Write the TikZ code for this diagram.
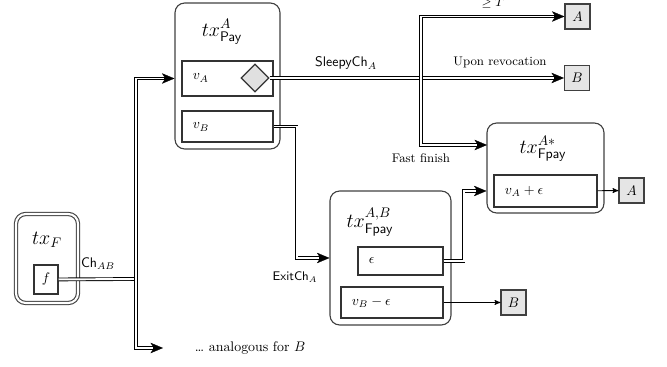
\documentclass[tikz,border=0pt]{standalone}
\usepackage{amsmath, amssymb}
\usetikzlibrary{arrows, arrows.meta}
\usetikzlibrary{shapes}

\newcommand{\chanArrow}[1]{\draw[chanHead] #1; \draw[chanStyle, shorten >= 7.5pt] #1;}

\begin{document}
\begin{tikzpicture}[x = 0.72pt, y = -0.72pt, font = \small]
\tikzset{box size/.style 2 args = {minimum width = #1*0.72pt, minimum height = #2*0.72pt}}
\tikzstyle{txStyle} = [draw = black!75, line width = 0.8pt, rounded corners = 7pt, inner sep = 0pt]
\tikzstyle{inStyle} = [draw = black!80, line width = 0.8pt, inner sep = 0pt]
\tikzstyle{outStyle} = [draw = black!75, line width = 0.8pt, fill = black!10, box size = {25}{25}, inner sep = 0pt]
\tikzstyle{chanStyle} = [draw = black, double = white, double distance = 1.4pt, line width = 0.65pt]
\tikzstyle{chanHead} = [draw = black, line width = 2.7pt, -{Stealth[length = 9pt, width = 7.5pt, inset = 2.5pt, line width = 0.2pt]}]
\tikzstyle{payStyle} = [-stealth', line width = 0.6pt]
\useasboundingbox (0,0) rectangle (667,367);
% funding tx
\node[txStyle, double, double distance = 1.5pt, box size = {62}{89}] (txF) at (47,258.5) {};
\node (txFTitle) at (47,240) {\Large $tx_F$};
\node[inStyle, box size = {24}{29}] (f) at (46,279.5) {\normalsize $f$};
% payment tx
\node[txStyle, box size = {105}{146}] (pay) at (227.5,76) {};
\node (payTitle) at (222,32) {\Large $tx^{A}_{\mathsf{Pay}}$};
\node[inStyle, box size = {91}{35}] (vA) at (227.5,78.5) {};
\node[anchor = west] (vALab) at (188,78) {\normalsize $v_A$};
\node[diamond, draw = black!80, line width = 0.8pt, fill = black!12, inner sep = 0pt, minimum size = 28*0.72pt] (dia) at (255,78) {};
\node[inStyle, box size = {91}{31}] (vB) at (227.5,126.5) {};
\node[anchor = west] (vBLab) at (188,127) {\normalsize $v_B$};
% fast payment txs
\node[txStyle, box size = {121}{134}] (fpayAB) at (390.5,258) {};
\node (fpayABTitle) at (370,222) {\Large $tx^{A,B}_{\mathsf{Fpay}}$};
\node[inStyle, box size = {85}{28}] (eps) at (400.5,261) {};
\node[anchor = west] (epsLab) at (364,261) {\normalsize $\epsilon$};
\node[inStyle, box size = {102}{31}] (vBe) at (392,302.5) {};
\node[anchor = west] (vBeLab) at (347,302) {\normalsize $v_B - \epsilon$};
\node[txStyle, box size = {117}{90}] (fpayA) at (545.5,168) {};
\node (fpayATitle) at (543,149) {\Large $tx^{A*}_{\mathsf{Fpay}}$};
\node[inStyle, box size = {103}{32}] (vAe) at (545.5,191) {};
\node[anchor = west] (vAeLab) at (500,191) {\normalsize $v_A + \epsilon$};
% outputs
\node[outStyle] (outA1) at (577.5,16.5) {\normalsize $A$};
\node[outStyle] (outB1) at (577,78) {\normalsize $B$};
\node[outStyle] (outA2) at (631.5,190.5) {\normalsize $A$};
\node[outStyle] (outB2) at (513.5,302.5) {\normalsize $B$};
% junctions
\coordinate (chAB) at (136,279);
\coordinate (sleepy) at (421,78);
\coordinate (anaTip) at (163,348);
\coordinate (fastIn) at (487,145);
\node[anchor = west, font = \normalsize] (ana) at (190,348) {\dots\ analogous for $B$};
% labels
\node (chABLab) at (98,264) {\normalsize $\mathsf{Ch}_{AB}$};
\node (exitLab) at (295,277) {$\mathsf{ExitCh}_A$};
\node (sleepyLab) at (346,63) {\normalsize $\mathsf{SleepyCh}_A$};
\node (revokeLab) at (500,62) {Upon revocation};
\node (timeLab) at (493,3) {$\geq T$};
\node (fastLab) at (421,158) {Fast finish};
% channels
\draw[chanStyle] (f) -- (chAB);
\chanArrow{(chAB) |- (vA -| pay.west)}
\chanArrow{(chAB) |- (anaTip)}
\chanArrow{(vB.east) -- ++(23,0) |- (fpayAB.west)}
\draw[chanStyle] (dia.east) -- (sleepy);
\chanArrow{(sleepy) -- (outB1)}
\chanArrow{(sleepy) |- (outA1)}
\chanArrow{(sleepy) |- (fastIn)}
\chanArrow{(eps.east) -- ++(20,0) |- (vAe -| fpayA.west)}
\draw[payStyle] (vAe) -- (outA2);
\draw[payStyle] (vBe) -- (outB2);
\end{tikzpicture}
\end{document}
